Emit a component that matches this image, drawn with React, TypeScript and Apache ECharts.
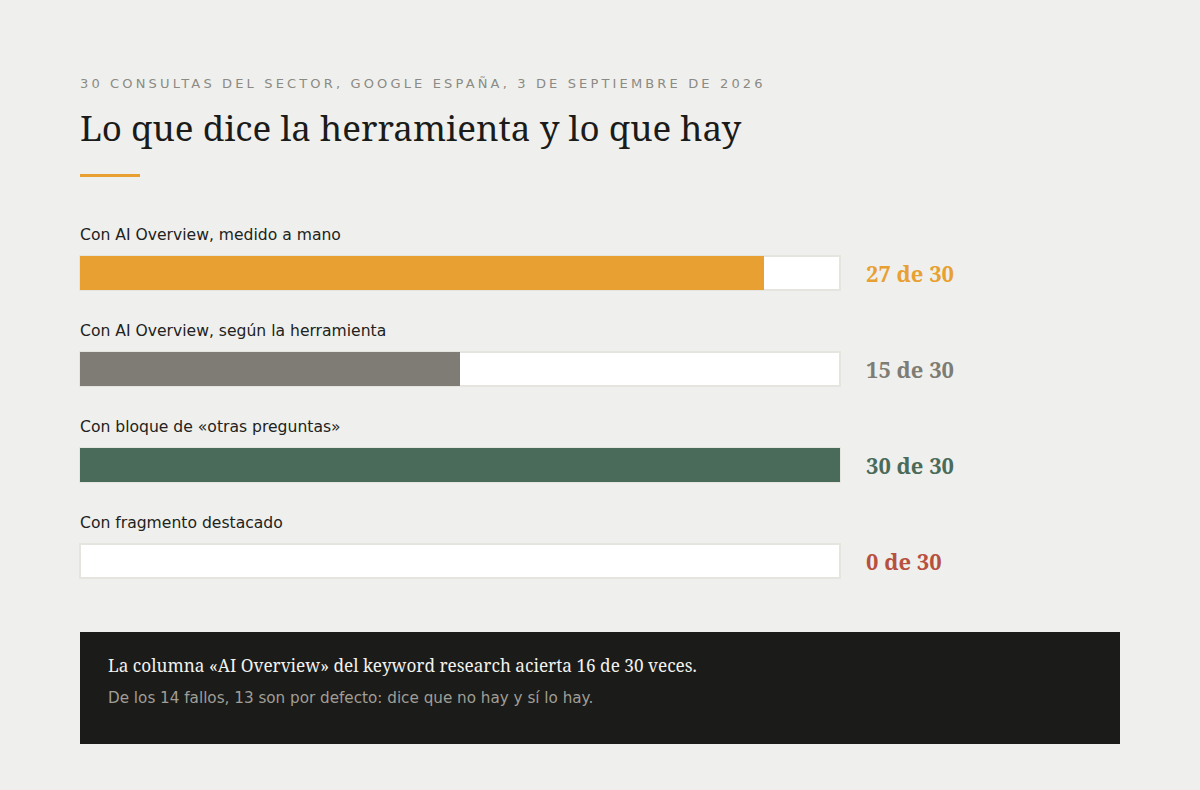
import * as echarts from 'echarts';
import { useEffect, useRef } from 'react';

const kicker = '30 CONSULTAS DEL SECTOR, GOOGLE ESPAÑA, 3 DE SEPTIEMBRE DE 2026';
const headline = 'Lo que dice la herramienta y lo que hay';
const categories = [
  'Con AI Overview, medido a mano',
  'Con AI Overview, según la herramienta',
  'Con bloque de «otras preguntas»',
  'Con fragmento destacado',
];
const counts = [27, 15, 30, 0];
const total = 30;
const colors = ['#e8a033', '#7e7c74', '#4b6b5a', '#b8503f'];
const noteMain = 'La columna «AI Overview» del keyword research acierta 16 de 30 veces.';
const noteSub = 'De los 14 fallos, 13 son por defecto: dice que no hay y sí lo hay.';

const SERIF = "'Noto Serif', 'DejaVu Serif', serif";
const SANS = "'DejaVu Sans', sans-serif";

function buildOption() {
  const rich: Record<string, object> = {};
  colors.forEach((color, i) => {
    rich[`v${i}`] = { color, fontFamily: SERIF, fontWeight: 'bold', fontSize: 22 };
  });
  return {
    animation: false,
    backgroundColor: '#eff0ed',
    grid: { left: 80, right: 360, top: 225, height: 384 },
    xAxis: { type: 'value', min: 0, max: total, show: false },
    yAxis: [
      {
        type: 'category',
        data: categories,
        inverse: true,
        axisLine: { show: false },
        axisTick: { show: false },
        axisLabel: { show: false },
        splitLine: { show: false },
      },
      {
        type: 'category',
        data: categories,
        inverse: true,
        position: 'right',
        axisLine: { show: false },
        axisTick: { show: false },
        splitLine: { show: false },
        axisLabel: {
          margin: 26,
          align: 'left',
          formatter: (_: string, index: number) => `{v${index}|${counts[index]} de ${total}}`,
          rich,
        },
      },
    ],
    series: [
      {
        type: 'bar',
        yAxisIndex: 0,
        barWidth: 34,
        showBackground: true,
        backgroundStyle: { color: '#ffffff', borderColor: '#e5e4df', borderWidth: 2 },
        data: counts.map((value, i) => ({ value, itemStyle: { color: colors[i] } })),
        label: {
          show: true,
          position: [0, -21],
          align: 'left',
          verticalAlign: 'middle',
          formatter: '{b}',
          fontFamily: SANS,
          fontSize: 15.6,
          color: '#222220',
        },
      },
    ],
    graphic: [
      {
        type: 'text',
        left: 80,
        top: 77,
        style: { text: kicker, fontFamily: SANS, fontSize: 13, fill: '#8b8a84' },
      },
      {
        type: 'text',
        left: 80,
        top: 110,
        style: { text: headline, fontFamily: SERIF, fontSize: 35, fill: '#1b1b19' },
      },
      { type: 'rect', shape: { x: 80, y: 174, width: 60, height: 3 }, style: { fill: '#e8a033' } },
      {
        type: 'rect',
        shape: { x: 80, y: 632, width: 1040, height: 112 },
        style: { fill: '#1b1b19' },
      },
      {
        type: 'text',
        x: 108,
        y: 665,
        style: {
          text: noteMain,
          fontFamily: SERIF,
          fontSize: 17.2,
          fill: '#f2f2ee',
          verticalAlign: 'middle',
        },
      },
      {
        type: 'text',
        x: 108,
        y: 698,
        style: {
          text: noteSub,
          fontFamily: SANS,
          fontSize: 15.2,
          fill: '#a09e96',
          verticalAlign: 'middle',
        },
      },
    ],
  };
}

export default function App() {
  const ref = useRef<HTMLDivElement | null>(null);

  useEffect(() => {
    document.body.style.margin = '0';
    if (!ref.current) return;
    const chart = echarts.init(ref.current, undefined, { renderer: 'svg' });
    chart.setOption(buildOption());
    // letter-spaced kicker line
    ref.current.querySelectorAll('text').forEach((node) => {
      if (node.textContent === kicker) node.setAttribute('letter-spacing', '3.15px');
    });
    return () => chart.dispose();
  }, []);

  return <div ref={ref} style={{ width: 1200, height: 790 }} />;
}
